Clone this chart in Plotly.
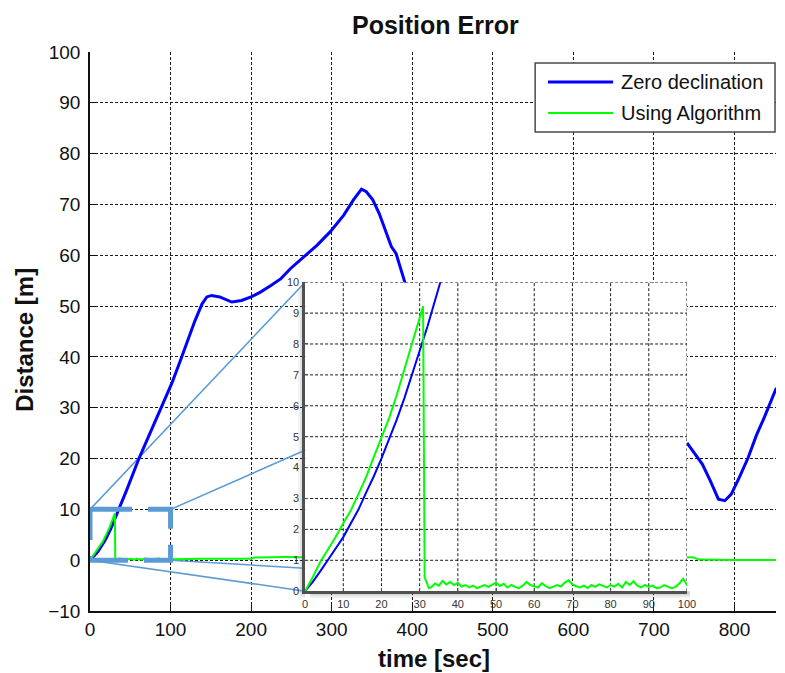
import plotly.graph_objects as go

# ---------------------------------------------------------------------------
# Data
# ---------------------------------------------------------------------------
# "Zero declination" position error [m] vs time [s]  (None = not recorded)
BLUE_T = [0, 2, 4, 6, 8, 10, 12, 14, 16, 18, 20, 22, 24, 26, 28, 30, 32, 34, 36,
          45, 61, 75, 90, 102, 112, 122, 130, 139, 145, 151, 161, 176, 188, 200,
          212, 225, 237, 249, 266, 282, 298, 315, 327, 337, 343, 351, 359, 368,
          374, 380, 386, 391, 395,
          None,
          741, 751, 760, 770, 780, 788, 796, 806, 817, 827, 837, 852]
BLUE_D = [0, 0.3, 0.65, 1.0, 1.38, 1.75, 2.18, 2.65, 3.2, 3.72, 4.3, 4.9, 5.55,
          6.25, 7.05, 7.78, 8.55, 9.4, 10.25,
          13.6, 20.1, 25.2, 30.5, 35.0, 39.2, 43.6, 47.0, 50.4, 51.8, 52.1, 51.8,
          50.8, 51.1, 51.8, 52.8, 54.1, 55.4, 57.4, 59.7, 62.0, 64.6, 67.9, 70.9,
          73.0, 72.5, 70.9, 68.2, 64.3, 61.7, 60.3, 57.1, 54.8, 52.5,
          None,
          23.1, 20.9, 18.9, 15.6, 12.0, 11.7, 13.0, 16.3, 20.2, 24.5, 28.1, 33.9]

# "Using Algorithm" position error [m] vs time [s]
GREEN_T = [0, 2, 4, 6, 8, 10, 12, 14, 16, 18, 20, 22, 24, 26, 28, 30, 30.9,
           31.3, 32.4,
           33, 34, 35, 36, 37, 38, 39, 40, 41, 42, 43, 44, 45, 46, 47, 48, 49,
           50, 51, 52, 53, 54, 55, 56, 57, 58, 59, 60, 61, 62, 63, 64, 65, 66,
           67, 68, 69, 70, 71, 72, 73, 74, 75, 76, 77, 78, 79, 80, 81, 82, 83,
           84, 85, 86, 87, 88, 89, 90, 91, 92, 93, 94, 95, 96, 97, 98, 99, 100,
           110, 125, 140, 160, 180, 200, 204, 215, 230, 245, 260, 270,
           None,
           741, 750, 755, 770, 800, 852]
GREEN_D = [0, 0.45, 0.95, 1.35, 1.75, 2.2, 2.62, 3.15, 3.7, 4.35, 4.95, 5.6,
           6.35, 7.2, 8.0, 8.85, 9.22,
           0.45, 0.1,
           0.12, 0.25, 0.18, 0.33, 0.22, 0.3, 0.2, 0.27, 0.15, 0.2, 0.12, 0.18,
           0.1, 0.16, 0.2, 0.14, 0.22, 0.28, 0.17, 0.24, 0.12, 0.2, 0.14, 0.1,
           0.18, 0.3, 0.2, 0.15, 0.12, 0.26, 0.16, 0.1, 0.14, 0.2, 0.15, 0.28,
           0.35, 0.22, 0.16, 0.12, 0.18, 0.1, 0.2, 0.14, 0.22, 0.16, 0.12, 0.2,
           0.15, 0.24, 0.12, 0.3, 0.2, 0.32, 0.18, 0.12, 0.2, 0.14, 0.18, 0.1,
           0.12, 0.2, 0.15, 0.1, 0.14, 0.25, 0.4, 0.2,
           0.25, 0.3, 0.28, 0.3, 0.28, 0.3, 0.55, 0.6, 0.58, 0.62, 0.6, 0.62,
           None,
           0.6, 0.55, 0.12, 0.06, 0.05, 0.05]

SERIES_NAMES = ["Zero declination", "Using Algorithm"]
SERIES_COLORS = ["#0000FF", "#00FF00"]

X_TICKS = [0, 100, 200, 300, 400, 500, 600, 700, 800]
Y_TICKS = [-10, 0, 10, 20, 30, 40, 50, 60, 70, 80, 90, 100]
INSET_X_TICKS = [0, 10, 20, 30, 40, 50, 60, 70, 80, 90, 100]
INSET_Y_TICKS = [0, 1, 2, 3, 4, 5, 6, 7, 8, 9, 10]

X_RANGE = [0, 851.5]
Y_RANGE = [-10, 100]
ZOOM_T = [0, 100]          # magnified window
ZOOM_D = [0, 10]
INSET_T = [267, 741]       # where the magnified view sits, in main-axis units
INSET_D = [-6.1, 54.7]

# ---------------------------------------------------------------------------
# Geometry helpers
# ---------------------------------------------------------------------------
W, H = 785, 673
ML, MR, MT, MB = 90, 0, 52, 62
PW, PH = W - ML - MR, H - MT - MB


def px_x(p):
    return (p - ML) / PW


def px_y(p):
    return (MT + PH - p) / PH


inset_xdom = [(t - X_RANGE[0]) / (X_RANGE[1] - X_RANGE[0]) for t in INSET_T]
inset_ydom = [(d - Y_RANGE[0]) / (Y_RANGE[1] - Y_RANGE[0]) for d in INSET_D]

FONT = "Liberation Sans, Arial, Helvetica, sans-serif"
LINK = "#5B9BD5"
GRID_COLOR = "#1a1a1a"
GRID_DASH = "3px,2px"
GRID = dict(showgrid=True, gridcolor=GRID_COLOR, gridwidth=1, griddash=GRID_DASH,
            zeroline=False)

fig = go.Figure()

# main axes
fig.add_trace(go.Scatter(x=BLUE_T, y=BLUE_D, mode="lines", name=SERIES_NAMES[0],
                         line=dict(color=SERIES_COLORS[0], width=3),
                         xaxis="x", yaxis="y", showlegend=False, hoverinfo="skip"))
fig.add_trace(go.Scatter(x=GREEN_T, y=GREEN_D, mode="lines", name=SERIES_NAMES[1],
                         line=dict(color=SERIES_COLORS[1], width=2),
                         xaxis="x", yaxis="y", showlegend=False, hoverinfo="skip"))
# magnified view
fig.add_trace(go.Scatter(x=BLUE_T, y=BLUE_D, mode="lines", name=SERIES_NAMES[0],
                         line=dict(color=SERIES_COLORS[0], width=2),
                         xaxis="x2", yaxis="y2", showlegend=False, hoverinfo="skip"))
fig.add_trace(go.Scatter(x=GREEN_T, y=GREEN_D, mode="lines", name=SERIES_NAMES[1],
                         line=dict(color=SERIES_COLORS[1], width=2),
                         xaxis="x2", yaxis="y2", showlegend=False, hoverinfo="skip"))

shapes = []
# connector lines from the zoom window corners to the magnified view corners
for (zt, zd), (it, idd) in [((ZOOM_T[0], ZOOM_D[1]), (INSET_T[0], INSET_D[1])),
                            ((ZOOM_T[1], ZOOM_D[1]), (INSET_T[1], INSET_D[1])),
                            ((ZOOM_T[0], ZOOM_D[0]), (INSET_T[0], INSET_D[0])),
                            ((ZOOM_T[1], ZOOM_D[0]), (INSET_T[1], INSET_D[0]))]:
    shapes.append(dict(type="line", xref="x", yref="y", x0=zt, y0=zd, x1=it, y1=idd,
                       line=dict(color=LINK, width=1.6), layer="between"))

# soft drop shadow along the left and bottom edges of the magnified view
ix0 = ML + inset_xdom[0] * PW
ix1 = ML + inset_xdom[1] * PW
iy_top = MT + (1 - inset_ydom[1]) * PH
iy_bot = MT + (1 - inset_ydom[0]) * PH
for off, alpha in [(7, 0.05), (5, 0.07), (3, 0.09)]:
    shapes.append(dict(type="rect", xref="paper", yref="paper",
                       x0=px_x(ix0 - off), x1=px_x(ix0), y0=px_y(iy_bot + off),
                       y1=px_y(iy_top + 5), fillcolor=f"rgba(0,0,0,{alpha})",
                       line=dict(width=0), layer="below"))
    shapes.append(dict(type="rect", xref="paper", yref="paper",
                       x0=px_x(ix0 + 5), x1=px_x(ix1 + 3), y0=px_y(iy_bot + off),
                       y1=px_y(iy_bot), fillcolor=f"rgba(0,0,0,{alpha})",
                       line=dict(width=0), layer="below"))

# opaque backing of the magnified view (hides the main view beneath it)
shapes.append(dict(type="rect", xref="x2", yref="y2", x0=ZOOM_T[0], x1=ZOOM_T[1],
                   y0=ZOOM_D[0], y1=ZOOM_D[1], fillcolor="white",
                   line=dict(width=0), layer="below"))
# dotted grid of the magnified view, laid over its backing
for t in INSET_X_TICKS[1:]:
    shapes.append(dict(type="line", xref="x2", yref="y2", x0=t, x1=t,
                       y0=ZOOM_D[0], y1=ZOOM_D[1],
                       line=dict(color=GRID_COLOR, width=1, dash=GRID_DASH),
                       layer="between"))
for d in INSET_Y_TICKS[1:]:
    shapes.append(dict(type="line", xref="x2", yref="y2", x0=ZOOM_T[0], x1=ZOOM_T[1],
                       y0=d, y1=d,
                       line=dict(color=GRID_COLOR, width=1, dash=GRID_DASH),
                       layer="between"))

# dashed zoom window
shapes.append(dict(type="rect", xref="x", yref="y", x0=ZOOM_T[0], y0=ZOOM_D[1],
                   x1=ZOOM_T[1], y1=ZOOM_D[0],
                   line=dict(color=LINK, width=5, dash="42px,16px"), layer="above"))

# legend box
LEG_L, LEG_R, LEG_T, LEG_B = 541, 784, 63, 132
shapes.append(dict(type="rect", xref="paper", yref="paper",
                   x0=px_x(LEG_L), x1=px_x(LEG_R), y0=px_y(LEG_B), y1=px_y(LEG_T),
                   fillcolor="white", line=dict(color="#4a4a4a", width=1.5),
                   layer="above"))
annotations = []
for i, (name, col, lw) in enumerate(zip(SERIES_NAMES, SERIES_COLORS, [3, 2])):
    yy = 82 + i * 31
    shapes.append(dict(type="line", xref="paper", yref="paper",
                       x0=px_x(554), x1=px_x(620), y0=px_y(yy), y1=px_y(yy),
                       line=dict(color=col, width=lw), layer="above"))
    annotations.append(dict(text=name, xref="paper", yref="paper", x=px_x(626),
                            y=px_y(yy), xanchor="left", yanchor="middle",
                            showarrow=False,
                            font=dict(family=FONT, size=20, color="#111")))

# titles
annotations.append(dict(text="Position Error", xref="paper", yref="paper",
                        x=px_x(440), y=px_y(25), xanchor="center", yanchor="middle",
                        showarrow=False,
                        font=dict(family=FONT, size=25, color="#111", weight="bold")))
annotations.append(dict(text="time [sec]", xref="paper", yref="paper",
                        x=px_x(439), y=px_y(659), xanchor="center", yanchor="middle",
                        showarrow=False,
                        font=dict(family=FONT, size=24, color="#111", weight="bold")))
annotations.append(dict(text="Distance [m]", xref="paper", yref="paper",
                        x=px_x(23), y=px_y(340), xanchor="center", yanchor="middle",
                        textangle=-90, showarrow=False,
                        font=dict(family=FONT, size=24, color="#111", weight="bold")))

INSET_AXIS = dict(showline=True, linecolor="#505050", linewidth=2.5,
                  ticks="inside", ticklen=3, tickcolor="#505050",
                  tickfont=dict(family=FONT, size=11, color="#333"),
                  ticklabelstandoff=1, showgrid=False, zeroline=False)

fig.update_layout(
    width=W, height=H,
    margin=dict(l=ML, r=MR, t=MT, b=MB, pad=0),
    paper_bgcolor="white", plot_bgcolor="rgba(0,0,0,0)",
    showlegend=False,
    shapes=shapes, annotations=annotations,
    xaxis=dict(domain=[0, 1], range=X_RANGE, tickvals=X_TICKS, anchor="y",
               showline=True, linecolor="#111", linewidth=1.5,
               ticks="inside", ticklen=6, tickcolor="#111",
               tickfont=dict(family=FONT, size=19, color="#111"),
               ticklabelstandoff=0, **GRID),
    yaxis=dict(domain=[0, 1], range=Y_RANGE, tickvals=Y_TICKS, anchor="x",
               showline=True, linecolor="#111", linewidth=1.5,
               ticks="inside", ticklen=6, tickcolor="#111",
               tickfont=dict(family=FONT, size=19, color="#111"),
               ticklabelstandoff=4, **GRID),
    xaxis2=dict(domain=inset_xdom, range=ZOOM_T, tickvals=INSET_X_TICKS, anchor="y2",
                **INSET_AXIS),
    yaxis2=dict(domain=inset_ydom, range=ZOOM_D, tickvals=INSET_Y_TICKS, anchor="x2",
                **INSET_AXIS),
)

fig.write_html("out.html")
